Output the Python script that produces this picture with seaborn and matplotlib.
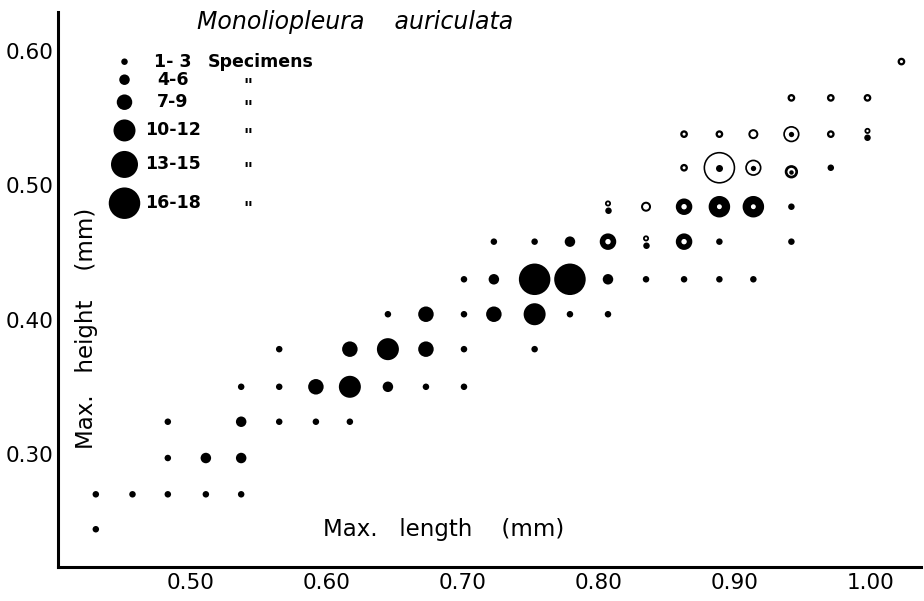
import matplotlib
matplotlib.use("Agg")
import matplotlib.pyplot as plt
from matplotlib.markers import MarkerStyle
from matplotlib.transforms import Affine2D, ScaledTranslation
import pandas as pd
import seaborn as sns

# filled circles (max. length, max. height in mm), one grid row per line
dot_len = [0.433,
           0.433, 0.460, 0.486, 0.514, 0.540,
           0.486, 0.514, 0.540,
           0.486, 0.540, 0.568, 0.595, 0.620,
           0.540, 0.568, 0.595, 0.620, 0.648, 0.676, 0.704,
           0.568, 0.620, 0.648, 0.676, 0.704, 0.756,
           0.648, 0.676, 0.704, 0.726, 0.756, 0.782, 0.810,
           0.704, 0.726, 0.756, 0.782, 0.810, 0.838, 0.866, 0.892, 0.917,
           0.726, 0.756, 0.782, 0.892, 0.945,
           0.945,
           0.974]
dot_ht = [0.244,
          0.270, 0.270, 0.270, 0.270, 0.270,
          0.297, 0.297, 0.297,
          0.324, 0.324, 0.324, 0.324, 0.324,
          0.350, 0.350, 0.350, 0.350, 0.350, 0.350, 0.350,
          0.378, 0.378, 0.378, 0.378, 0.378, 0.378,
          0.404, 0.404, 0.404, 0.404, 0.404, 0.404, 0.404,
          0.430, 0.430, 0.430, 0.430, 0.430, 0.430, 0.430, 0.430, 0.430,
          0.458, 0.458, 0.458, 0.458, 0.458,
          0.484,
          0.513]
dot_n = ["1-3",
         "1-3", "1-3", "1-3", "1-3", "1-3",
         "1-3", "4-6", "4-6",
         "1-3", "4-6", "1-3", "1-3", "1-3",
         "1-3", "1-3", "7-9", "10-12", "4-6", "1-3", "1-3",
         "1-3", "7-9", "10-12", "7-9", "1-3", "1-3",
         "1-3", "7-9", "1-3", "7-9", "10-12", "1-3", "1-3",
         "1-3", "4-6", "16-18", "16-18", "4-6", "1-3", "1-3", "1-3", "1-3",
         "1-3", "1-3", "4-6", "1-3", "1-3",
         "1-3",
         "1-3"]

# open circles
ring_len = [1.026, 0.945, 0.974, 1.001, 0.866, 0.892, 0.974, 0.866,
            0.917, 0.838,
            0.810, 0.866, 0.866,
            0.892, 0.917]
ring_ht = [0.592, 0.565, 0.565, 0.565, 0.538, 0.538, 0.538, 0.513,
           0.538, 0.484,
           0.458, 0.458, 0.484,
           0.484, 0.484]
ring_kind = ["thin", "thin", "thin", "thin", "thin", "thin", "thin", "thin",
             "wide", "wide",
             "thick", "thick", "thick",
             "thick+", "thick+"]

# open circle with a dot in the centre
bull_len = [0.945, 0.917, 0.892, 0.945]
bull_ht = [0.538, 0.513, 0.513, 0.510]
bull_kind = ["mid", "mid", "large", "small"]

# small open circle sitting on a dot
pair_len = [0.810, 0.838, 1.001]
pair_ht = [0.484, 0.458, 0.538]

counts = ["1-3", "4-6", "7-9", "10-12", "13-15", "16-18"]
x_ticks = [0.50, 0.60, 0.70, 0.80, 0.90, 1.00]
y_ticks = [0.30, 0.40, 0.50, 0.60]

PT = 0.72  # points per pixel at 100 dpi
dot_diam = {"1-3": 6.5, "4-6": 10.5, "7-9": 15.5, "10-12": 22, "13-15": 27, "16-18": 31.5}
ring_style = {"thin": (5.4, 2.3), "wide": (8.0, 2.0), "thick": (11.0, 5.5), "thick+": (13.3, 8.2)}
bull_style = {"small": (10.6, 2.7, 4.5), "mid": (14.6, 1.7, 5.3), "large": (30.1, 1.6, 7.0)}

sns.set_theme(style="white")
plt.rcParams["font.family"] = ["DejaVu Sans"]

fig = plt.figure(figsize=(9.24, 6.01), dpi=100)
ax = fig.add_axes([57.5 / 924, 34 / 601, 863.5 / 924, 555 / 601])

dots = pd.DataFrame({"length": dot_len, "height": dot_ht, "n": dot_n})
sns.scatterplot(data=dots, x="length", y="height", size="n",
                sizes={k: (v * PT) ** 2 for k, v in dot_diam.items()},
                color="black", linewidth=0, legend=False, ax=ax, zorder=3)

rings = pd.DataFrame({"length": ring_len, "height": ring_ht, "kind": ring_kind})
for kind, grp in rings.groupby("kind"):
    d, lw = ring_style[kind]
    sns.scatterplot(data=grp, x="length", y="height", s=(d * PT) ** 2, color="black",
                    facecolor="none", edgecolor="black", linewidth=lw * PT,
                    legend=False, ax=ax, zorder=3)

bulls = pd.DataFrame({"length": bull_len, "height": bull_ht, "kind": bull_kind})
for kind, grp in bulls.groupby("kind"):
    d, lw, dd = bull_style[kind]
    sns.scatterplot(data=grp, x="length", y="height", s=(d * PT) ** 2, color="black",
                    facecolor="none", edgecolor="black", linewidth=lw * PT,
                    legend=False, ax=ax, zorder=3)
    sns.scatterplot(data=grp, x="length", y="height", s=(dd * PT) ** 2, color="black",
                    linewidth=0, legend=False, ax=ax, zorder=3)

pairs = pd.DataFrame({"length": pair_len, "height": pair_ht})
ring_up = MarkerStyle("o", transform=Affine2D().scale(0.65).translate(0, 0.5))
dot_down = MarkerStyle("o", transform=Affine2D().translate(0, -0.5))
sns.scatterplot(data=pairs, x="length", y="height", marker=ring_up, s=(6.5 * PT) ** 2,
                color="black", facecolor="none", edgecolor="black", linewidth=1.8 * PT,
                legend=False, ax=ax, zorder=3)
sns.scatterplot(data=pairs, x="length", y="height", marker=dot_down, s=(6.5 * PT) ** 2,
                color="black", linewidth=0, legend=False, ax=ax, zorder=3)

ax.set_xlim(0.4048, 1.0404)
ax.set_ylim(0.2159, 0.6289)
ax.set_xticks(x_ticks)
ax.set_xticklabels([f"{v:.2f}" for v in x_ticks])
ax.set_yticks(y_ticks)
ax.set_yticklabels([f"{v:.2f}" for v in y_ticks])
ax.set_xlabel("")
ax.set_ylabel("")
for side in ["top", "right"]:
    ax.spines[side].set_visible(False)
for side in ["left", "bottom"]:
    ax.spines[side].set_color("black")
    ax.spines[side].set_linewidth(2.2)
ax.tick_params(direction="in", length=7, width=1.5, color="black",
               labelsize=15.5, labelcolor="black")
ax.tick_params(axis="x", pad=4)
ax.tick_params(axis="y", pad=3)
# hand-lettered x labels sit a little right of their ticks
shift = ScaledTranslation(4 / 100, 0, fig.dpi_scale_trans)
for lab in ax.get_xticklabels():
    lab.set_transform(lab.get_transform() + shift)

# overlay in pixel units for the title, axis names and the key
pix = fig.add_axes([0, 0, 1, 1])

pix.text(355, 29.5, "Monoliopleura    auriculata", ha="center", va="baseline",
         fontsize=17, style="italic", color="black")
pix.text(444, 536, "Max.   length    (mm)", ha="center", va="baseline",
         fontsize=16.5, color="black")
pix.text(87, 328, "Max.   height    (mm)", ha="center", va="center", rotation=90,
         fontsize=16.5, color="black")

leg_y = [61.7]
for a, b in zip(counts[:-1], counts[1:]):
    leg_y.append(leg_y[-1] + (dot_diam[a] + dot_diam[b]) / 2 + 9.5)
key = pd.DataFrame({"x": [124.5] * len(counts), "y": leg_y, "n": counts})
sns.scatterplot(data=key, x="x", y="y", size="n",
                sizes={k: (v * PT) ** 2 for k, v in dot_diam.items()},
                color="black", linewidth=0, legend=False, ax=pix)
pix.set_xlim(0, 924)
pix.set_ylim(601, 0)
pix.axis("off")
for i, (lab, y) in enumerate(zip(["1- 3", "4-6", "7-9", "10-12", "13-15", "16-18"], leg_y)):
    pix.text(173, y, lab, ha="center", va="center", fontsize=12.5, weight="bold", color="black")
    if i == 0:
        pix.text(208, y, "Specimens", ha="left", va="center", fontsize=12.5,
                 weight="bold", color="black")
    else:
        pix.text(248, y - 3, '"', ha="center", va="top", fontsize=12.5,
                 weight="bold", color="black")

fig.savefig("out.png", dpi=100)
